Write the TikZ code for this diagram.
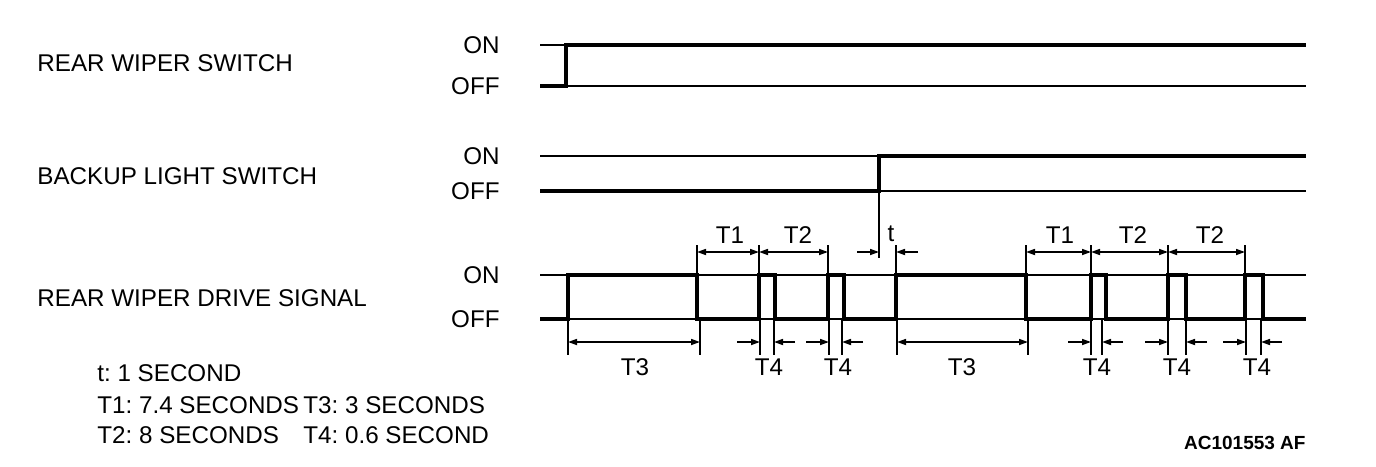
\documentclass[tikz,border=0pt]{standalone}
\usepackage{fontspec}
\setmainfont{Liberation Sans}
\usetikzlibrary{arrows.meta}
\frenchspacing

\tikzset{
  txt/.style={font=\fontsize{12.1}{14}\selectfont, inner sep=0pt},
  wave/.style={line width=2.3pt},
  level/.style={line width=0.9pt},
  dim/.style={line width=0.8pt, {Triangle[length=4.5pt,width=3pt]}-{Triangle[length=4.5pt,width=3pt]}},
  dimin/.style={line width=0.8pt, -{Triangle[length=4.5pt,width=3pt]}},
}

\begin{document}
\begin{tikzpicture}[x=0.5pt,y=-0.5pt]
  \useasboundingbox (0,0) rectangle (1376,466);

  % signal names
  \node[txt,anchor=west] (sw) at (37,63) {REAR WIPER SWITCH};
  \node[txt,anchor=west] (bl) at (37,176) {BACKUP LIGHT SWITCH};
  \node[txt,anchor=west] (dr) at (37,298) {REAR WIPER DRIVE SIGNAL};

  % ON / OFF levels
  \foreach \name/\on/\off in {sw/45/86, bl/156/191, dr/275/319} {
    \node[txt,anchor=east] (\name on) at (500,\on) {ON};
    \node[txt,anchor=east] (\name off) at (500,\off) {OFF};
    \draw[level] (540,\on) -- (1306,\on);
    \draw[level] (540,\off) -- (1306,\off);
  }

  % waveforms
  \draw[wave] (540,86) -- (566,86) -- (566,45) -- (1306,45);
  \draw[wave] (540,191) -- (879,191) -- (879,156) -- (1306,156);
  \draw[wave] (540,319)
    foreach \a/\b in {568/697, 759/775, 828/844, 896/1026, 1091/1106, 1168/1186, 1245/1263}
      { -- (\a,319) -- (\a,275) -- (\b,275) -- (\b,319) }
    -- (1306,319);

  % extension lines
  \draw[level] (879,191) -- (879,258);
  \foreach \x in {697, 759, 828, 896, 1026, 1091, 1168, 1245}
    \draw[level] (\x,245) -- (\x,275);
  \foreach \x in {568, 700, 760, 774, 829, 842, 897, 1028, 1091, 1102, 1168, 1186, 1246, 1261}
    \draw[level] (\x,319) -- (\x,355);

  % T1 / T2
  \foreach \a/\b/\lx/\t [count=\i] in {697/759/730/T1, 759/828/798/T2, 1026/1091/1060/T1,
                                       1091/1168/1133/T2, 1168/1245/1210/T2} {
    \coordinate (u\i a) at (\a,252);
    \coordinate (u\i b) at (\b,252);
    \draw[dim] (u\i a) -- (u\i b);
    \node[txt] (u\i) at (\lx,235) {\t};
  }

  % t
  \coordinate (ta) at (857,252);
  \coordinate (tb) at (879,252);
  \coordinate (tc) at (918,252);
  \coordinate (td) at (896,252);
  \draw[dimin] (ta) -- (tb);
  \draw[dimin] (tc) -- (td);
  \node[txt] (tt) at (891,234) {t};

  % T3
  \foreach \a/\b/\lx [count=\i] in {568/700/635, 897/1028/962} {
    \coordinate (w\i a) at (\a,342);
    \coordinate (w\i b) at (\b,342);
    \draw[dim] (w\i a) -- (w\i b);
    \node[txt] (w\i) at (\lx,367) {T3};
  }

  % T4
  \foreach \a/\b/\lx [count=\i] in {760/774/769, 829/842/838, 1091/1102/1097, 1168/1186/1177, 1246/1261/1257} {
    \coordinate (v\i a) at (\a,342);
    \coordinate (v\i b) at (\b,342);
    \draw[dimin] ([xshift=-11.5pt]v\i a) -- (v\i a);
    \draw[dimin] ([xshift=10.5pt]v\i b) -- (v\i b);
    \node[txt] (v\i) at (\lx,367) {T4};
  }

  % legend
  \node[txt,anchor=west] (lt) at (97,373) {t: 1 SECOND};
  \node[txt,anchor=west] (lt1) at (97,405) {T1: 7.4 SECONDS};
  \node[txt,anchor=west] (lt3) at (303,405) {T3: 3 SECONDS};
  \node[txt,anchor=west] (lt2) at (97,435) {T2: 8 SECONDS};
  \node[txt,anchor=west] (lt4) at (303,435) {T4: 0.6 SECOND};

  \node[inner sep=0pt,anchor=east,font=\bfseries\fontsize{9.5}{11}\selectfont] (fig) at (1306,443) {AC101553 AF};
\end{tikzpicture}
\end{document}
